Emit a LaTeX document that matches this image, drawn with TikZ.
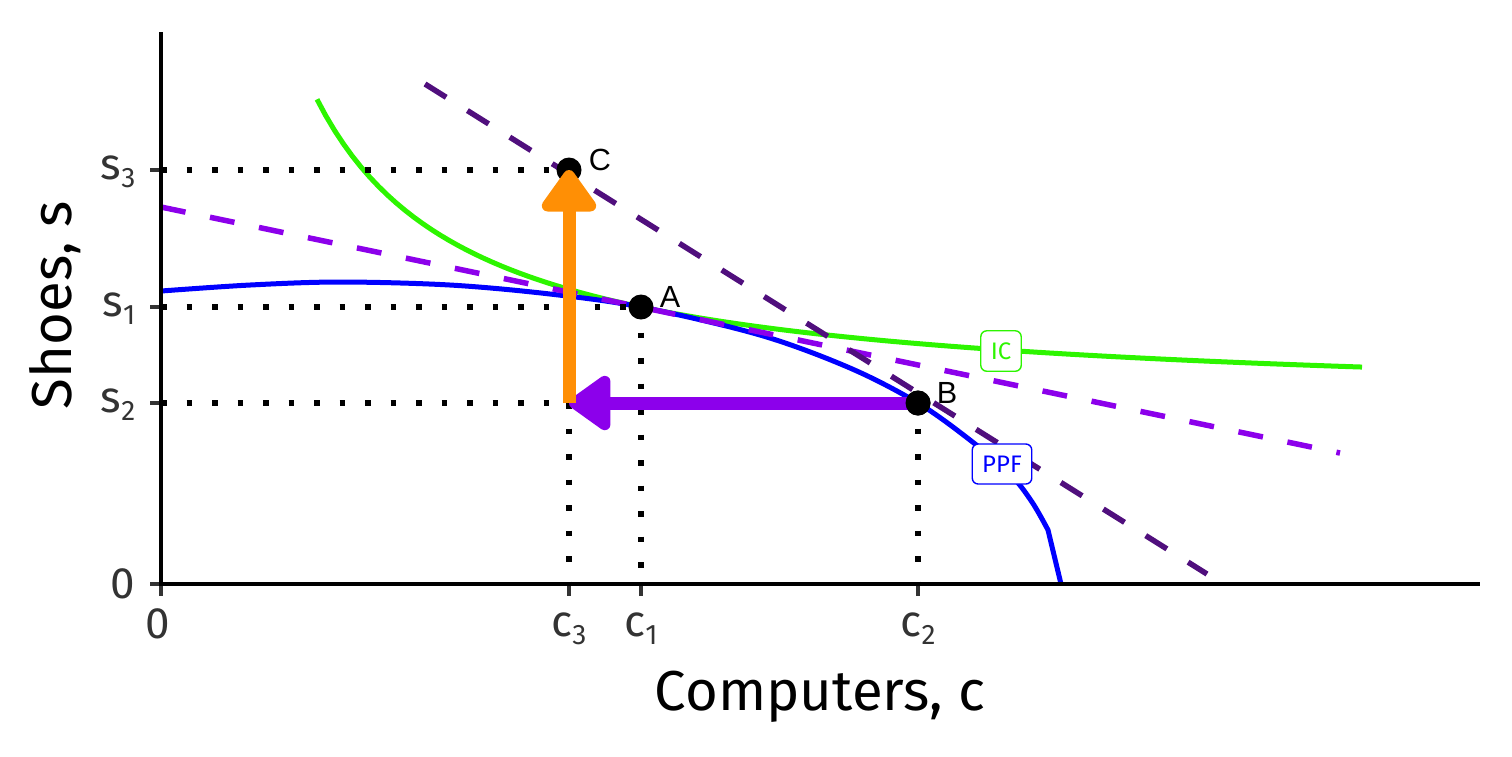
\documentclass[tikz,border=0pt]{standalone}
\usepackage{fontspec}
\setmainfont{Fira Sans}
\newfontfamily\ptfont{Liberation Sans}
\usetikzlibrary{arrows.meta,positioning}
\definecolor{ppfblue}{RGB}{0,0,255}
\definecolor{icgreen}{RGB}{45,245,0}
\definecolor{lightviolet}{RGB}{140,0,235}
\definecolor{darkviolet}{RGB}{80,15,125}
\definecolor{bigorange}{RGB}{255,143,5}
\definecolor{tickgrey}{RGB}{51,51,51}
\newcommand{\tsub}[2]{#1\raisebox{-0.35ex}{\fontsize{8}{9}\selectfont #2}}
\tikzset{
  axisline/.style={line width=0.045cm},
  tickmark/.style={line width=0.045cm,tickgrey},
  ticklab/.style={text=tickgrey,font=\fontsize{12.5}{14}\selectfont,inner sep=0pt},
  dotline/.style={line width=0.055cm,dash pattern=on 0.055cm off 0.2cm},
  tangent/.style={line width=0.055cm,dash pattern=on 0.25cm off 0.25cm},
  curve/.style={line width=0.05cm},
  dot/.style={circle,fill=black,inner sep=0pt,minimum size=0.25cm},
  ptlab/.style={font=\ptfont\fontsize{8.7}{10}\selectfont,inner sep=0pt},
  curvelab/.style={fill=white,rounded corners=0.06cm,line width=0.014cm,
    font=\fontsize{6.8}{8}\selectfont,minimum height=0.4cm,inner xsep=0.1cm},
  bigarrow/.style={line width=0.13cm,-{Triangle[width=0.62cm,length=0.46cm,round]}}
}
\begin{document}
\begin{tikzpicture}[x=0.01cm,y=-0.01cm]
  \useasboundingbox (0,0) rectangle (1512,756);
  % axes corners
  \coordinate (O) at (161,584);
  \coordinate (ytop) at (161,32);
  \coordinate (xend) at (1480,584);
  % indifference curve and frontier
  \draw[curve,icgreen] plot[domain=156:1201,samples=120,variable=\X]
    ({161+\X},{407-480/(\X/100)});
  \draw[curve,ppfblue] plot[smooth,tension=0.55] coordinates {
    (161,291) (250,285) (340,282) (450,285) (550,294) (641,307) (760,335)
    (850,368) (918,403) (970,440) (1010,474) (1032,502) (1048,530)}
    -- (1061,584);
  % price lines
  \coordinate (pa) at (161,207);
  \coordinate (pb) at (1340,453);
  \coordinate (qa) at (425,84);
  \coordinate (qb) at (1207,574);
  \draw[tangent,lightviolet] (pa) -- (pb);
  \draw[tangent,darkviolet] (qa) -- (qb);
  % bundles
  \node[dot] (A) at (641,307) {};
  \node[dot] (B) at (918,403) {};
  \node[dot] (C) at (569,170) {};
  \coordinate (D) at (569,403);
  \coordinate (ys3) at (161,170);
  \coordinate (ys1) at (161,307);
  \coordinate (ys2) at (161,403);
  \coordinate (xc3) at (569,584);
  \coordinate (xc1) at (641,584);
  \coordinate (xc2) at (918,584);
  \draw[dotline] (ys3) -- (C.center);
  \draw[dotline] (ys1) -- (A.center);
  \draw[dotline] (ys2) -- (D);
  \draw[dotline] (D) -- (xc3);
  \draw[dotline] (A.center) -- (xc1);
  \draw[dotline] (B.center) -- (xc2);
  \draw[bigarrow,lightviolet] (B.center) -- (D);
  \node[dot] at (B) {};
  \draw[bigarrow,bigorange] (D) -- (C.center);
  \node[ptlab,right=0.05cm of A,yshift=0.1cm] (Alab) {A};
  \node[ptlab,right=0.05cm of B,yshift=0.1cm] (Blab) {B};
  \node[ptlab,right=0.06cm of C,yshift=0.1cm] (Clab) {C};
  \node[curvelab,draw=icgreen,text=icgreen] (iclab) at (1001,351) {IC};
  \node[curvelab,draw=ppfblue,text=ppfblue] (ppflab) at (1002,464) {PPF};
  % axes
  \draw[axisline] (ytop) -- (161,586);
  \draw[axisline] (159,584) -- (xend);
  \foreach \yy in {170,307,403,584}
    \draw[tickmark] (150,\yy) -- (159,\yy);
  \foreach \xx in {161,569,641,918}
    \draw[tickmark] (\xx,586) -- (\xx,596);
  \node[ticklab,anchor=mid east] (s3) at (136,170) {\tsub{s}{3}};
  \node[ticklab,anchor=mid east] (s1) at (136,307) {\tsub{s}{1}};
  \node[ticklab,anchor=mid east] (s2) at (136,403) {\tsub{s}{2}};
  \node[ticklab,anchor=east] (y0) at (136,584) {0};
  \node[ticklab,anchor=base] (x0) at (158,638) {0};
  \node[ticklab,anchor=base] (c3) at (569,636) {\tsub{c}{3}};
  \node[ticklab,anchor=base] (c1) at (641,636) {\tsub{c}{1}};
  \node[ticklab,anchor=base] (c2) at (918,636) {\tsub{c}{2}};
  \node[rotate=90,font=\fontsize{16}{18}\selectfont] (ylab) at (55,305) {Shoes, s};
  \node[font=\fontsize{16}{18}\selectfont] (xlab) at (820,697) {Computers, c};
\end{tikzpicture}
\end{document}
